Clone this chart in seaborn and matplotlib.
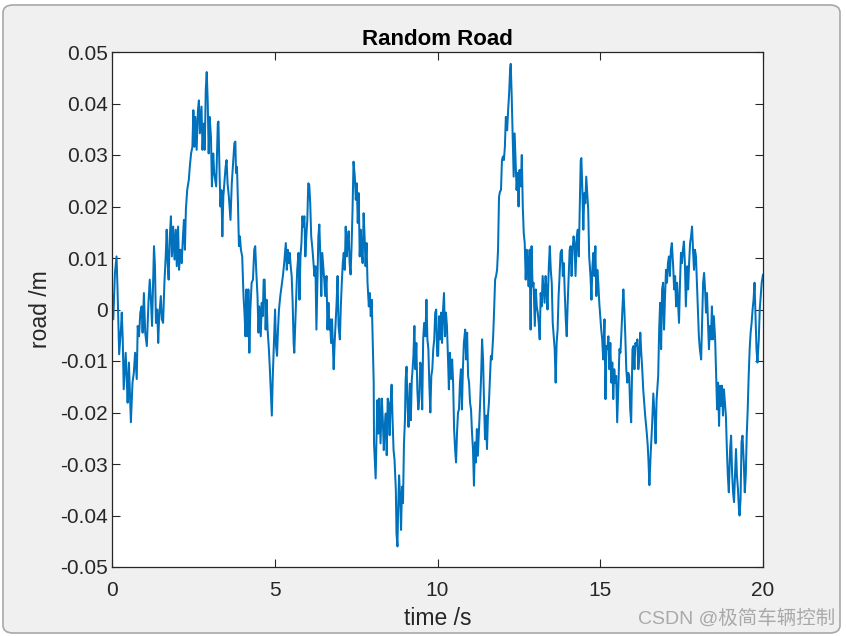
import numpy as np
import pandas as pd
import matplotlib
matplotlib.use("Agg")
import matplotlib.pyplot as plt
from matplotlib.patches import FancyBboxPatch
import seaborn as sns

# ---- data ----
time_s = [
    0.00, 0.04, 0.09, 0.14, 0.17, 0.22, 0.28, 0.30, 0.33, 0.36, 0.42, 0.45, 0.48, 0.52, 0.55, 0.58,
    0.63, 0.67, 0.71, 0.76, 0.79, 0.83, 0.87, 0.91, 0.94, 0.98, 1.02, 1.07, 1.12, 1.16, 1.20, 1.23,
    1.27, 1.29, 1.32, 1.35, 1.39, 1.42, 1.45, 1.50, 1.53, 1.57, 1.61, 1.65, 1.68, 1.71, 1.74, 1.77,
    1.81, 1.84, 1.88, 1.92, 1.96, 1.99, 2.03, 2.06, 2.10, 2.14, 2.18, 2.21, 2.24, 2.27, 2.31, 2.36,
    2.39, 2.43, 2.47, 2.50, 2.53, 2.56, 2.60, 2.64, 2.67, 2.70, 2.75, 2.78, 2.82, 2.85, 2.88, 2.91,
    2.94, 2.97, 3.00, 3.04, 3.07, 3.11, 3.14,
    3.20, 3.25, 3.27, 3.30, 3.33, 3.36, 3.39, 3.42, 3.45, 3.49, 3.52, 3.55, 3.59, 3.64, 3.68, 3.72,
    3.76, 3.79, 3.81, 3.84, 3.87, 3.90, 3.93, 3.96, 4.00, 4.04, 4.07, 4.10, 4.13, 4.16, 4.19, 4.22,
    4.25, 4.29, 4.33, 4.37, 4.40, 4.43, 4.47, 4.50, 4.53, 4.57, 4.60, 4.63, 4.66, 4.69, 4.72, 4.75,
    4.78, 4.82, 4.85, 4.89, 4.91, 4.94, 4.97, 5.01, 5.04, 5.07, 5.10, 5.13, 5.17, 5.21, 5.25, 5.29,
    5.34, 5.37, 5.40, 5.43, 5.46, 5.49, 5.52, 5.55, 5.58, 5.60, 5.63, 5.66, 5.69, 5.73, 5.76, 5.79,
    5.82, 5.85, 5.88, 5.91, 5.94, 5.97, 6.00, 6.03, 6.06, 6.09, 6.12, 6.16, 6.19, 6.22, 6.25, 6.28,
    6.31, 6.34, 6.37, 6.40, 6.43, 6.46, 6.49, 6.52, 6.55, 6.59, 6.62, 6.65, 6.68,
    6.70, 6.73, 6.76, 6.79, 6.81, 6.84, 6.87, 6.90, 6.93, 6.96, 7.00, 7.03, 7.06, 7.09, 7.12, 7.15,
    7.18, 7.21, 7.24, 7.27, 7.30, 7.33, 7.36, 7.39, 7.42, 7.46, 7.49, 7.52, 7.55, 7.58, 7.61, 7.64,
    7.67, 7.70, 7.73, 7.76, 7.79, 7.82, 7.85, 7.89, 7.92, 7.95, 7.98, 8.01, 8.04,
    8.05, 8.10, 8.15, 8.18, 8.21, 8.25, 8.29, 8.32, 8.35, 8.38, 8.41, 8.44, 8.47, 8.50, 8.53, 8.56,
    8.59, 8.62, 8.65, 8.68, 8.72, 8.74, 8.77, 8.79, 8.82, 8.85, 8.88, 8.91, 8.94, 8.97, 9.00, 9.02,
    9.05, 9.08, 9.11, 9.15, 9.18, 9.21, 9.24,
    9.26, 9.29, 9.32, 9.35, 9.38, 9.41, 9.44, 9.47, 9.50, 9.53, 9.56, 9.59, 9.63, 9.66, 9.69, 9.72,
    9.75, 9.78, 9.81, 9.84, 9.87, 9.90, 9.93, 9.96, 9.99,
    10.02, 10.05, 10.08, 10.11, 10.14, 10.17, 10.20, 10.23, 10.26, 10.29, 10.32, 10.35, 10.38, 10.42,
    10.45, 10.48, 10.51, 10.54, 10.57, 10.60, 10.63, 10.66, 10.69, 10.72, 10.75, 10.78, 10.81, 10.85,
    10.88, 10.91, 10.94, 10.97, 11.00, 11.03, 11.06, 11.09, 11.12, 11.15, 11.18, 11.21, 11.24, 11.28,
    11.31, 11.34, 11.37, 11.40, 11.43, 11.46, 11.49, 11.52, 11.55, 11.58, 11.61, 11.64, 11.67, 11.71,
    11.74, 11.77, 11.80, 11.83, 11.86, 11.89, 11.92, 11.95, 11.98, 12.01, 12.04, 12.07, 12.10, 12.14,
    12.17, 12.20, 12.23, 12.25, 12.28, 12.31, 12.34, 12.37, 12.40, 12.43, 12.46, 12.49, 12.52, 12.56,
    12.59, 12.62, 12.65, 12.68, 12.71, 12.74, 12.77, 12.80, 12.83, 12.86, 12.89, 12.92, 12.95, 12.99,
    13.02, 13.05, 13.08, 13.11, 13.14, 13.17, 13.20, 13.23, 13.26, 13.29, 13.32, 13.35, 13.38, 13.42,
    13.45,
    13.48, 13.51, 13.54, 13.57, 13.60, 13.63, 13.66, 13.69, 13.72, 13.75, 13.78, 13.82, 13.85, 13.88,
    13.91, 13.94, 13.97, 14.00, 14.03, 14.06, 14.09, 14.12, 14.15, 14.18, 14.21, 14.24, 14.28, 14.31,
    14.34, 14.37, 14.40, 14.42, 14.45, 14.48, 14.51, 14.54, 14.57, 14.60, 14.63, 14.66, 14.70, 14.73,
    14.76, 14.79, 14.82, 14.85, 14.88, 14.91, 14.94, 14.97, 15.00, 15.03, 15.06, 15.09, 15.13, 15.16,
    15.19, 15.22, 15.25, 15.28, 15.31, 15.34, 15.37, 15.40, 15.43, 15.46, 15.49, 15.52, 15.56, 15.59,
    15.62, 15.65, 15.68, 15.71, 15.74, 15.77, 15.80, 15.83, 15.86, 15.89, 15.92, 15.95, 15.99, 16.02,
    16.05, 16.08, 16.11, 16.14, 16.17, 16.20, 16.23, 16.26, 16.29, 16.32, 16.35, 16.38, 16.42,
    16.43, 16.46, 16.48, 16.51, 16.55, 16.59, 16.63, 16.67, 16.70, 16.73,
    16.78, 16.81, 16.84, 16.87, 16.90, 16.93, 16.96, 16.99, 17.02, 17.05, 17.08, 17.11, 17.14, 17.17,
    17.20, 17.24, 17.27, 17.30, 17.33, 17.36, 17.39, 17.42, 17.45, 17.48, 17.51, 17.54, 17.57, 17.60,
    17.63, 17.67, 17.70, 17.73, 17.76, 17.79, 17.82, 17.85, 17.88, 17.91, 17.94, 17.97, 18.00, 18.03,
    18.06, 18.10, 18.13, 18.16, 18.19, 18.22, 18.25, 18.28, 18.31, 18.34, 18.37, 18.40, 18.43, 18.46,
    18.49, 18.53, 18.56, 18.59, 18.62, 18.65, 18.68, 18.71, 18.74, 18.77, 18.80, 18.83, 18.86, 18.89,
    18.92, 18.95, 18.99, 19.02, 19.05, 19.08, 19.11, 19.14, 19.17, 19.20, 19.23, 19.26, 19.28, 19.31,
    19.34, 19.37, 19.41, 19.44, 19.47, 19.50, 19.53, 19.56, 19.59, 19.62, 19.65, 19.68, 19.71, 19.74,
    19.77, 19.80, 19.83, 19.87, 19.90, 19.93, 19.96, 19.99, 20.00,
]

road_m = [
    0.0032, -0.0019, 0.0071, 0.0103, 0.0039, -0.0087, -0.0032, -0.0006, -0.0058, -0.0155, -0.0084, -0.0129, -0.0181, -0.0103, -0.0161, -0.0219,
    -0.0142, -0.0123, -0.0084, -0.0135, -0.0032, -0.0052, -0.0006, 0.0006, -0.0045, 0.0032, -0.0045, -0.0071, 0.0013, 0.0058, 0.0013, -0.0032,
    0.0077, 0.0123, 0.0084, -0.0026, 0.0000, -0.0065, -0.0013, 0.0026, -0.0019, -0.0026, 0.0052, 0.0103, 0.0155, 0.0090, 0.0058, 0.0135,
    0.0181, 0.0103, 0.0161, 0.0097, 0.0155, 0.0084, 0.0161, 0.0077, 0.0116, 0.0090, 0.0142, 0.0174, 0.0116, 0.0194, 0.0232, 0.0252,
    0.0277, 0.0303, 0.0316, 0.0387, 0.0316, 0.0374, 0.0310, 0.0387, 0.0406, 0.0342, 0.0394, 0.0310, 0.0361, 0.0310, 0.0426, 0.0461,
    0.0406, 0.0303, 0.0374, 0.0335, 0.0239, 0.0303, 0.0265,
    0.0239, 0.0361, 0.0365, 0.0277, 0.0200, 0.0232, 0.0142, 0.0219, 0.0245, 0.0277, 0.0290, 0.0245, 0.0219, 0.0174, 0.0245, 0.0284,
    0.0323, 0.0326, 0.0265, 0.0277, 0.0206, 0.0123, 0.0142, 0.0116, 0.0103, 0.0026, -0.0006, -0.0052, 0.0039, -0.0052, 0.0039, -0.0084,
    0.0000, 0.0052, 0.0058, 0.0116, 0.0123, 0.0077, 0.0026, -0.0045, 0.0006, -0.0052, 0.0013, -0.0013, 0.0058, 0.0058, -0.0039, 0.0019,
    -0.0039, -0.0077, -0.0116, -0.0174, -0.0206, -0.0129, -0.0071, 0.0000, -0.0071, -0.0090, -0.0039, 0.0000, 0.0026, 0.0045, 0.0065, 0.0090,
    0.0129, 0.0077, 0.0116, 0.0090, 0.0110, 0.0084, 0.0065, 0.0013, -0.0065, -0.0084, -0.0026, 0.0026, 0.0077, 0.0110, 0.0019, 0.0103,
    0.0129, 0.0181, 0.0161, 0.0181, 0.0103, 0.0142, 0.0174, 0.0245, 0.0242, 0.0206, 0.0142, 0.0116, 0.0090, 0.0065, 0.0084, -0.0039,
    0.0052, 0.0142, 0.0165, 0.0103, 0.0026, 0.0110, 0.0084, 0.0058, 0.0026, 0.0065, -0.0039, 0.0013, -0.0039,
    -0.0019, -0.0065, -0.0019, -0.0077, -0.0116, -0.0065, -0.0026, 0.0013, 0.0065, -0.0032, -0.0058, 0.0006, 0.0052, 0.0090, 0.0110, 0.0077,
    0.0161, 0.0103, 0.0129, 0.0152, 0.0090, 0.0068, 0.0123, 0.0194, 0.0287, 0.0258, 0.0213, 0.0245, 0.0168, 0.0226, 0.0103, 0.0155,
    0.0116, 0.0090, 0.0187, 0.0142, 0.0084, 0.0129, 0.0052, 0.0006, 0.0032, -0.0013, 0.0019, -0.0065, -0.0142,
    -0.0260, -0.0328, -0.0176, -0.0241, -0.0173, -0.0260, -0.0173, -0.0215, -0.0273, -0.0228, -0.0202, -0.0283, -0.0173, -0.0182, -0.0244, -0.0182,
    -0.0146, -0.0215, -0.0273, -0.0292, -0.0350, -0.0435, -0.0460, -0.0389, -0.0322, -0.0364, -0.0428, -0.0344, -0.0376, -0.0260, -0.0215, -0.0137,
    -0.0111, -0.0189, -0.0228, -0.0144, -0.0215, -0.0137, -0.0111,
    -0.0090, -0.0032, -0.0116, -0.0065, -0.0155, -0.0194, -0.0174, -0.0103, -0.0110, -0.0194, -0.0058, -0.0026, -0.0052, 0.0019, -0.0058, -0.0077,
    -0.0148, -0.0200, -0.0129, -0.0116, -0.0077, -0.0058, -0.0006, 0.0000, -0.0090,
    -0.0090, -0.0013, -0.0058, -0.0006, -0.0065, 0.0000, 0.0032, -0.0052, -0.0006, -0.0032, -0.0090, -0.0155, -0.0084, -0.0135,
    -0.0097, -0.0142, -0.0232, -0.0271, -0.0297, -0.0239, -0.0200, -0.0194, -0.0142, -0.0116, -0.0194, -0.0116, -0.0065, -0.0039,
    -0.0097, -0.0045, -0.0129, -0.0142, -0.0181, -0.0194, -0.0239, -0.0271, -0.0342, -0.0258, -0.0297, -0.0232, -0.0284, -0.0226,
    -0.0181, -0.0129, -0.0058, -0.0097, -0.0181, -0.0252, -0.0206, -0.0271, -0.0206, -0.0181, -0.0135, -0.0090, -0.0097, -0.0052,
    0.0000, 0.0058, 0.0065, 0.0077, 0.0116, 0.0219, 0.0229, 0.0232, 0.0290, 0.0297, 0.0290, 0.0316, 0.0374, 0.0348,
    0.0387, 0.0419, 0.0465, 0.0477, 0.0413, 0.0335, 0.0258, 0.0342, 0.0284, 0.0232, 0.0265, 0.0200, 0.0271, 0.0239,
    0.0300, 0.0200, 0.0148, 0.0129, 0.0058, 0.0116, 0.0084, 0.0045, 0.0116, -0.0039, 0.0123, 0.0045, 0.0052, -0.0032,
    0.0039, 0.0006, -0.0006, -0.0026, -0.0058, 0.0032, 0.0006, 0.0065, 0.0039, 0.0013, 0.0065, 0.0039, 0.0000, 0.0084,
    0.0123,
    0.0077, 0.0052, -0.0026, -0.0052, -0.0077, -0.0142, -0.0065, -0.0039, 0.0026, 0.0065, 0.0110, 0.0116, 0.0065, 0.0090,
    0.0032, -0.0019, -0.0052, 0.0013, 0.0065, 0.0116, 0.0123, 0.0065, 0.0116, 0.0142, 0.0129, 0.0065, 0.0142, 0.0155,
    0.0103, 0.0194, 0.0290, 0.0294, 0.0232, 0.0155, 0.0226, 0.0206, 0.0258, 0.0226, 0.0194, 0.0103, 0.0065, 0.0019,
    0.0084, 0.0110, 0.0065, 0.0123, 0.0026, 0.0077, 0.0052, 0.0013, -0.0013, -0.0039, -0.0058, -0.0097, -0.0019, -0.0174,
    -0.0071, -0.0077, -0.0052, -0.0116, -0.0065, -0.0142, -0.0103, -0.0174, -0.0116, -0.0142, -0.0129, -0.0219, -0.0142, -0.0077,
    -0.0084, -0.0045, 0.0000, 0.0039, 0.0000, -0.0052, -0.0116, -0.0142, -0.0123, -0.0129, -0.0194, -0.0219, -0.0077, -0.0071,
    -0.0116, -0.0065, -0.0071, -0.0058, -0.0116, -0.0090, -0.0045, -0.0084, -0.0116, -0.0155, -0.0181, -0.0206, -0.0232,
    -0.0240, -0.0266, -0.0292, -0.0341, -0.0279, -0.0228, -0.0163, -0.0208, -0.0260, -0.0176,
    -0.0129, -0.0039, 0.0013, -0.0077, 0.0039, 0.0052, -0.0039, 0.0026, 0.0077, 0.0052, 0.0090, 0.0103, 0.0065, 0.0116,
    0.0129, 0.0084, 0.0039, 0.0065, 0.0006, 0.0052, 0.0013, -0.0026, 0.0052, 0.0110, 0.0090, 0.0116, 0.0132, 0.0090,
    0.0006, 0.0084, 0.0039, 0.0090, 0.0129, 0.0142, 0.0161, 0.0116, 0.0077, 0.0116, 0.0103, 0.0052, 0.0000, -0.0052,
    -0.0077, -0.0097, -0.0026, 0.0052, 0.0071, 0.0039, -0.0006, 0.0032, -0.0026, -0.0077, -0.0032, -0.0058, 0.0006, -0.0058,
    -0.0013, -0.0058, -0.0123, -0.0194, -0.0142, -0.0226, -0.0148, -0.0187, -0.0148, -0.0206, -0.0155, -0.0181, -0.0206, -0.0271,
    -0.0323, -0.0355, -0.0271, -0.0245, -0.0316, -0.0355, -0.0374, -0.0323, -0.0271, -0.0323, -0.0348, -0.0387, -0.0400, -0.0368,
    -0.0258, -0.0245, -0.0297, -0.0355, -0.0323, -0.0245, -0.0194, -0.0129, -0.0077, -0.0045, -0.0026, 0.0000, 0.0019, 0.0052,
    -0.0013, -0.0077, -0.0103, -0.0058, 0.0000, 0.0026, 0.0052, 0.0065, 0.0068,
]

x_ticks = [0, 5, 10, 15, 20]
y_ticks = [-0.05, -0.04, -0.03, -0.02, -0.01, 0, 0.01, 0.02, 0.03, 0.04, 0.05]
y_tick_labels = ["-0.05", "-0.04", "-0.03", "-0.02", "-0.01", "0", "0.01", "0.02", "0.03", "0.04", "0.05"]

n = min(len(time_s), len(road_m))
df = pd.DataFrame({"time": time_s[:n], "road": road_m[:n]})

sns.set_theme(style="white")
plt.rcParams["font.family"] = ["Liberation Sans", "Noto Sans CJK SC", "DejaVu Sans"]

W, H = 846, 636
fig = plt.figure(figsize=(W / 100, H / 100), dpi=100, facecolor="white")

# window frame (light grey panel with rounded corners)
frame = FancyBboxPatch((3 / W, 3 / H), 837 / W, 628 / H,
                       boxstyle="round,pad=0,rounding_size=0.012",
                       transform=fig.transFigure, facecolor="#f0f0f0",
                       edgecolor="#a8a8a8", linewidth=1.2, zorder=-5)
fig.patches.append(frame)

ax = fig.add_axes([112 / W, 1 - 567 / H, (763 - 112) / W, (567 - 52) / H])
ax.set_zorder(5)
ax.set_facecolor("white")

sns.lineplot(data=df, x="time", y="road", ax=ax, color="#0072BD",
             linewidth=1.45, estimator=None, sort=False)

ax.set_xlim(0, 20)
ax.set_ylim(-0.05, 0.05)
ax.set_xticks(x_ticks)
ax.set_xticklabels([str(v) for v in x_ticks])
ax.set_yticks(y_ticks)
ax.set_yticklabels(y_tick_labels)

for s in ax.spines.values():
    s.set_visible(True)
    s.set_color("#262626")
    s.set_linewidth(0.9)

ax.tick_params(axis="both", which="both", direction="in", length=6, width=0.8,
               color="#262626", labelsize=15, labelcolor="#262626",
               top=True, right=True, bottom=True, left=True)
ax.tick_params(axis="y", pad=3)
ax.tick_params(axis="x", pad=10)

ax.set_title("Random Road", fontsize=16, fontweight="bold", color="black", pad=5)
ax.set_xlabel("time /s", fontsize=16.5, color="#262626", labelpad=5)
ax.set_ylabel("road /m", fontsize=16.5, color="#262626", labelpad=6)

fig.text(835 / W, 1 - 624 / H, "CSDN @极简车辆控制", ha="right", va="baseline",
         fontsize=14, color="#a9a9a9", zorder=10,
         family=["Liberation Sans", "Noto Sans CJK SC"])

fig.savefig("out.png", dpi=100, facecolor=fig.get_facecolor())
